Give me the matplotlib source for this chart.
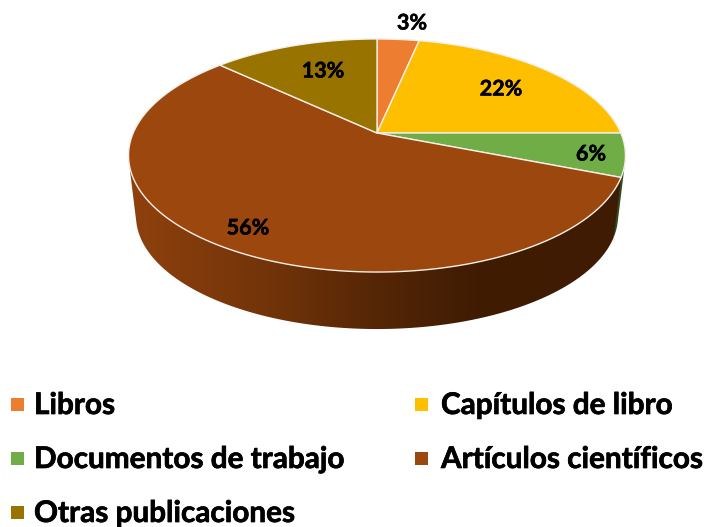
import numpy as np
import matplotlib
matplotlib.use("Agg")
import matplotlib.pyplot as plt
import matplotlib.patheffects as pe
from matplotlib.colors import LinearSegmentedColormap
from matplotlib.patches import Polygon, Rectangle

categories = ["Libros", "Capítulos de libro", "Documentos de trabajo", "Artículos científicos", "Otras publicaciones"]
values = [3.3, 21.7, 6, 56, 13]
colors = ["#ED7D31", "#FDBF00", "#70AD47", "#9C470D", "#997300"]

# layout, pixels of the 706x527 picture
CX, CY = 377, 133
RX, RY = 243.8, 112.2
TILT = 0.193
VANISH_Y = 2172
SCALE_BOTTOM = 0.97

label_pos = [(412, 23), (501, 89), (591, 154), (248, 228), (323, 71)]
legend_pos = [(11, 414), (415, 414), (11, 468), (415, 468), (11, 522)]
legend_text_x = [34, 441, 34, 441, 34]


def project(frac):
    # fraction of the pie, clockwise from 12 o'clock -> point on the top face
    a = 2 * np.pi * np.asarray(frac)
    w = 1 + TILT * np.cos(a)
    return CX + RX * np.sin(a) / w, CY - RY * np.cos(a) / w


def project_bottom(frac):
    x, y = project(frac)
    return CX + (x - CX) * SCALE_BOTTOM, VANISH_Y + (y - VANISH_Y) * SCALE_BOTTOM


def arc(start, end):
    return np.linspace(start, end, max(int((end - start) * 400), 2))


def hull(points):
    # monotone chain, the wall outline is the hull of its top and bottom arcs
    pts = sorted(map(tuple, points))

    def half(seq):
        out = []
        for p in seq:
            while len(out) > 1:
                (ax_, ay_), (bx_, by_) = out[-2], out[-1]
                if (bx_ - ax_) * (p[1] - ay_) - (by_ - ay_) * (p[0] - ax_) > 0:
                    break
                out.pop()
            out.append(p)
        return out[:-1]

    return np.array(half(pts) + half(pts[::-1]))


fig = plt.figure(figsize=(7.06, 5.27), dpi=100)
ax = fig.add_axes([0, 0, 1, 1])

edges = np.cumsum([0] + values) / sum(values)

# side wall
side_cmap = LinearSegmentedColormap.from_list(
    "side", [(0, "#8F410D"), (0.3, "#703309"), (0.5, "#552606"), (0.7, "#401C03"), (1, "#3E1B02")]
)
for i in [2, 3]:
    f = arc(edges[i], edges[i + 1])
    tx, ty = project(f)
    bx, by = project_bottom(f)
    pts = hull(np.column_stack([np.r_[tx, bx], np.r_[ty, by]]))
    if categories[i] == "Artículos científicos":
        poly = Polygon(pts, closed=True, fc="none", ec="none")
        ax.add_patch(poly)
        img = ax.imshow(np.linspace(0, 1, 256).reshape(1, -1), cmap=side_cmap, aspect="auto",
                        extent=[128, 625, 340, 100], zorder=2)
        img.set_clip_path(poly)
    else:
        ax.add_patch(Polygon(pts, closed=True, fc="#2E4A1E", ec="none", zorder=1))

ax.set_xlim(0, 706)
ax.set_ylim(527, 0)
ax.axis("off")

# top face
for i in range(len(values)):
    x, y = project(arc(edges[i], edges[i + 1]))
    pts = np.column_stack([np.r_[CX, x], np.r_[CY, y]])
    ax.add_patch(Polygon(pts, closed=True, fc=colors[i], ec="#F4EFE8", lw=1.0, joinstyle="round", zorder=3))

font = dict(family="Lato", fontweight="bold", color="black")
for v, (x, y) in zip(values, label_pos):
    ax.text(x, y, f"{v:.0f}%", ha="center", va="center", fontsize=15.5, zorder=4,
            path_effects=[pe.withStroke(linewidth=0.4, foreground="black")], **font)

for name, c, (x, y), tx in zip(categories, colors, legend_pos, legend_text_x):
    ax.add_patch(Rectangle((x, y - 16), 13, 13, fc=c, ec="none"))
    ax.text(tx, y, name, ha="left", va="baseline", fontsize=21.4,
            path_effects=[pe.withStroke(linewidth=0.5, foreground="black")], **font)

fig.savefig("out.png", dpi=100)
